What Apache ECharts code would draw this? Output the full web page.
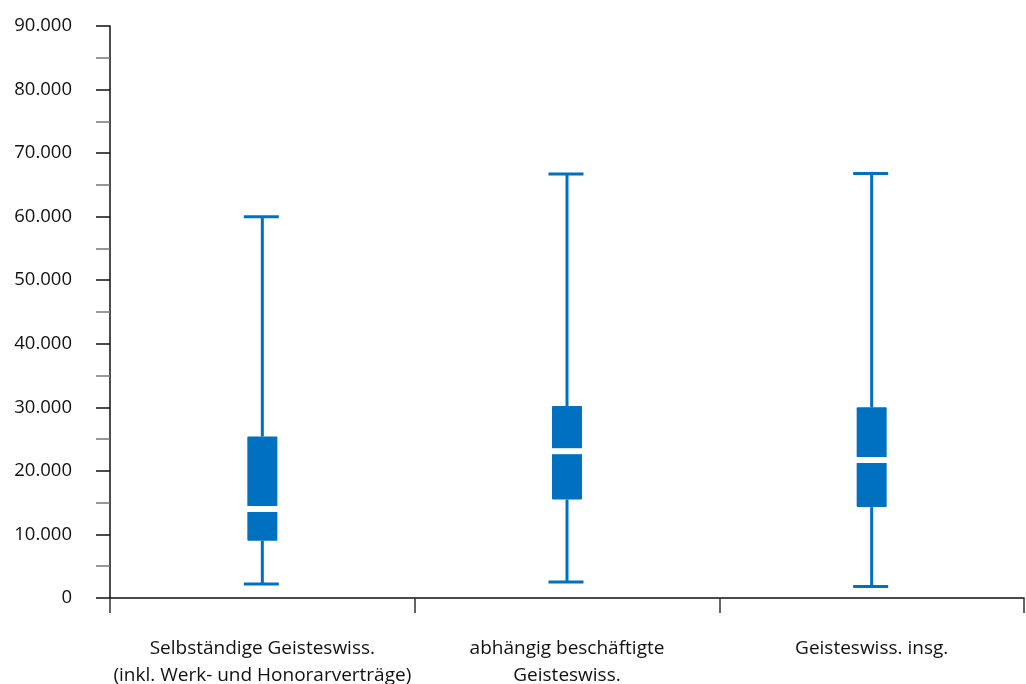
<!DOCTYPE html>
<html>
<head>
<meta charset="utf-8">
<script src="https://cdn.jsdelivr.net/npm/echarts@6/dist/echarts.min.js"></script>
<style>
html,body{margin:0;padding:0;background:#fff;}
#chart{width:1026px;height:684px;}
</style>
</head>
<body>
<div id="chart"></div>
<script>
const categories = [
  'Selbständige Geisteswiss.\n(inkl. Werk- und Honorarverträge)',
  'abhängig beschäftigte\nGeisteswiss.',
  'Geisteswiss. insg.'
];
const whiskerLow  = [2200, 2500, 1800];
const q1          = [9000, 15500, 14300];
const median      = [14000, 23100, 21700];
const q3          = [25400, 30200, 30000];
const whiskerHigh = [60000, 66700, 66800];

const yMin = 0, yMax = 90000, yInterval = 10000;

function fmt(v){
  return String(v).replace(/\B(?=(\d{3})+(?!\d))/g, '.');
}

const seriesData = categories.map((c, i) => [i, whiskerLow[i], q1[i], median[i], q3[i], whiskerHigh[i]]);

const BLUE = '#0070c0';

const chart = echarts.init(document.getElementById('chart'), null, {renderer: 'canvas'});
chart.setOption({
  animation: false,
  backgroundColor: '#fff',
  grid: {left: 110, right: 2, top: 26, bottom: 86, containLabel: false, outerBoundsMode: 'none'},
  xAxis: {
    type: 'category',
    data: categories,
    boundaryGap: true,
    axisLine: {show: true, lineStyle: {color: '#111', width: 1.5}},
    axisTick: {show: true, length: 15, lineStyle: {color: '#333', width: 1.5}},
    axisLabel: {
      margin: 37,
      fontFamily: 'Open Sans',
      fontSize: 19,
      lineHeight: 27,
      color: '#111',
      interval: 0
    },
    splitLine: {show: false}
  },
  yAxis: {
    type: 'value',
    min: yMin, max: yMax, interval: yInterval,
    axisLine: {show: true, lineStyle: {color: '#111', width: 1.5}},
    axisTick: {show: true, length: 14, inside: false, lineStyle: {color: '#111', width: 1.5}},
    minorTick: {show: true, splitNumber: 2, length: 14, lineStyle: {color: '#777', width: 1.5}},
    splitLine: {show: false},
    axisLabel: {
      margin: 38,
      fontFamily: 'Open Sans',
      fontSize: 18.5,
      color: '#111',
      verticalAlign: 'middle',
      padding: [0, 0, 10, 0],
      formatter: fmt
    }
  },
  series: [{
    type: 'custom',
    data: seriesData,
    encode: {x: 0, y: [1, 2, 3, 4, 5]},
    renderItem: function(params, api){
      const idx = api.value(0);
      const x = api.coord([idx, 0])[0];
      const yLo = api.coord([idx, api.value(1)])[1];
      const yQ1 = api.coord([idx, api.value(2)])[1];
      const yMed = api.coord([idx, api.value(3)])[1];
      const yQ3 = api.coord([idx, api.value(4)])[1];
      const yHi = api.coord([idx, api.value(5)])[1];
      const boxW = 30, capW = 35;
      return {
        type: 'group',
        children: [
          {type: 'line', shape: {x1: x, y1: yHi, x2: x, y2: yQ3}, style: {stroke: BLUE, lineWidth: 3}},
          {type: 'line', shape: {x1: x, y1: yQ1, x2: x, y2: yLo}, style: {stroke: BLUE, lineWidth: 3}},
          {type: 'line', shape: {x1: x - capW/2 - 1, y1: yHi, x2: x + capW/2 - 1, y2: yHi}, style: {stroke: BLUE, lineWidth: 3}},
          {type: 'line', shape: {x1: x - capW/2 - 1, y1: yLo, x2: x + capW/2 - 1, y2: yLo}, style: {stroke: BLUE, lineWidth: 3}},
          {type: 'rect', shape: {x: x - boxW/2, y: yQ3, width: boxW, height: yQ1 - yQ3, r: 1}, style: {fill: BLUE}},
          {type: 'line', shape: {x1: x - boxW/2 - 1, y1: yMed, x2: x + boxW/2 + 1, y2: yMed}, style: {stroke: '#fff', lineWidth: 6}}
        ]
      };
    }
  }]
});
</script>
</body>
</html>
